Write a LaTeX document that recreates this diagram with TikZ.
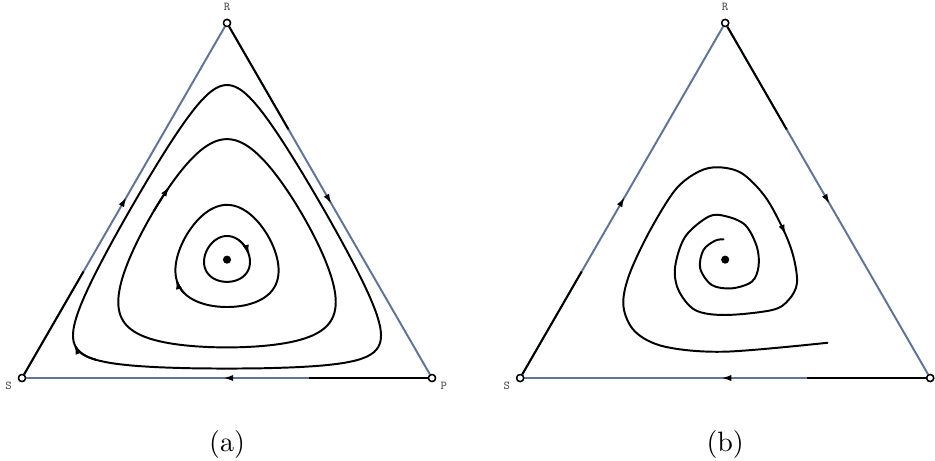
\documentclass[tikz,border=0pt]{standalone}
\usepackage{fontspec}
\usepackage{tikz}
\usetikzlibrary{arrows.meta,calc,positioning,decorations.markings}
\definecolor{rpsblue}{RGB}{96,116,150}
\definecolor{rpsgray}{RGB}{80,80,80}
\newcommand{\rpsorbit}[4]{%
  \draw[orbit] plot[smooth,samples at={0,4,...,360},variable=\t]
    ({2-(#2-#1)*sin(\t)*sqrt((2-#1-#2-tt(\t,#1,#2))/tt(\t,#1,#2))},{3.4641*tt(\t,#1,#2)});
  \draw[orbit,-{Latex[length=3.6pt,width=2.2pt]}] plot[smooth,domain=#3:#4,samples=8,variable=\t]
    ({2-(#2-#1)*sin(\t)*sqrt((2-#1-#2-tt(\t,#1,#2))/tt(\t,#1,#2))},{3.4641*tt(\t,#1,#2)});}

\begin{document}
\begin{tikzpicture}[x=1.286cm,y=1.286cm,
  declare function={tt(\ang,\lo,\hi)=\lo+(\hi-\lo)*(1-cos(\ang))/2;},
  vtx/.style={circle,draw,fill=white,line width=0.5pt,inner sep=0pt,minimum size=2.5pt},
  fixpt/.style={circle,fill=black,inner sep=0pt,minimum size=2.9pt},
  lbl/.style={inner sep=0pt,text=rpsgray,font=\ttfamily\fontsize{4.3}{5}\selectfont},
  capt/.style={font=\normalsize},
  side/.style={line width=0.7pt},
  orbit/.style={line width=0.7pt,line cap=round},
  tip/.style={postaction={decorate},decoration={markings,
    mark=at position #1 with {\arrow[black]{Latex[length=3.6pt,width=2.2pt]}}}}]
  \useasboundingbox (-0.2146,-0.8) rectangle (8.907,3.688);

  % (a)
  \node[vtx] (Sa) at (0,0) {};
  \node[vtx] (Pa) at (4,0) {};
  \node[vtx] (Ra) at (2,3.4641) {};
  \draw[side,rpsblue,tip=.51] (Sa) -- (Ra);
  \draw[side] (Sa) -- ($(Sa)!.3!(Ra)$);
  \draw[side,rpsblue,tip=.51] (Ra) -- (Pa);
  \draw[side] (Ra) -- ($(Ra)!.3!(Pa)$);
  \draw[side,rpsblue,tip=.51] (Pa) -- (Sa);
  \draw[side] (Pa) -- ($(Pa)!.3!(Sa)$);
  \node[vtx] at (Sa) {};
  \node[vtx] at (Pa) {};
  \node[vtx] at (Ra) {};
  \node[lbl,above=2.6pt of Ra] (labRa) {R};
  \node[lbl,below left=0.3pt and 2.4pt of Sa] (labSa) {S};
  \node[lbl,below right=0.3pt and 1.8pt of Pa] (labPa) {P};
  \rpsorbit{0.0266}{0.82525}{20}{34}
  \rpsorbit{0.08623}{0.67289}{108}{123}
  \rpsorbit{0.2}{0.4877}{43}{63}
  \rpsorbit{0.2708}{0.4}{215}{260}
  \node[fixpt] (Ea) at (2,1.1547) {};
  \node[capt] (capa) at (2,-0.65) {(a)};

  % (b)
  \begin{scope}[shift={(4.86,0)}]
  \node[vtx] (Sb) at (0,0) {};
  \node[vtx] (Pb) at (4,0) {};
  \node[vtx] (Rb) at (2,3.4641) {};
  \draw[side,rpsblue,tip=.51] (Sb) -- (Rb);
  \draw[side] (Sb) -- ($(Sb)!.3!(Rb)$);
  \draw[side,rpsblue,tip=.51] (Rb) -- (Pb);
  \draw[side] (Rb) -- ($(Rb)!.3!(Pb)$);
  \draw[side,rpsblue,tip=.51] (Pb) -- (Sb);
  \draw[side] (Pb) -- ($(Pb)!.3!(Sb)$);
  \node[vtx] at (Sb) {};
  \node[vtx] at (Pb) {};
  \node[vtx] at (Rb) {};
  \node[lbl,above=2.6pt of Rb] (labRb) {R};
  \node[lbl,below left=0.3pt and 2.4pt of Sb] (labSb) {S};
  \draw[orbit,tip=.51] plot[smooth,tension=0.55] coordinates {
    (2.998,0.344) (2.000,0.257) (1.415,0.305) (1.122,0.452) (1.008,0.696)
    (1.057,0.988) (1.252,1.412) (1.512,1.834) (1.740,2.013) (1.935,2.056)
    (2.163,1.997) (2.390,1.769) (2.569,1.444) (2.666,1.183) (2.700,0.924)
    (2.618,0.761) (2.456,0.663) (2.000,0.615) (1.707,0.663) (1.544,0.859)
    (1.512,1.086) (1.610,1.379) (1.837,1.574) (2.000,1.580) (2.195,1.493)
    (2.309,1.281) (2.325,1.086) (2.260,0.940) (2.065,0.875) (1.870,0.907)
    (1.756,1.070) (1.788,1.249) (1.902,1.340) (1.983,1.353)};
  \node[fixpt] (Eb) at (2,1.1547) {};
  \node[capt] (capb) at (2,-0.65) {(b)};
  \end{scope}
\end{tikzpicture}
\end{document}
